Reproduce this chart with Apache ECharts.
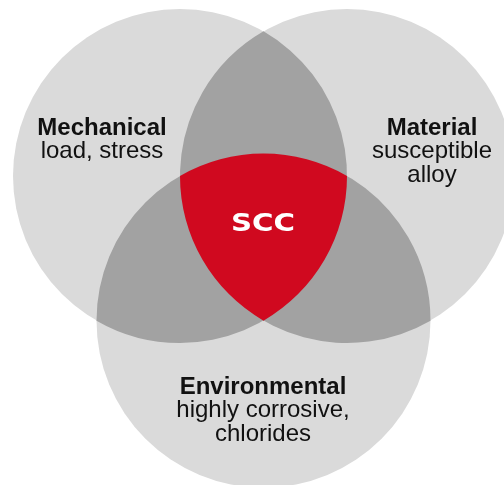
<!DOCTYPE html>
<html>
<head>
<meta charset="utf-8">
<script src="https://cdn.jsdelivr.net/npm/echarts@6/dist/echarts.min.js"></script>
<style>
  html, body { margin: 0; padding: 0; background: #fff; }
  #chart { width: 504px; height: 485px; }
</style>
</head>
<body>
<div id="chart"></div>
<script>
// three factors of the venn diagram
const setNames = ['Mechanical', 'Material', 'Environmental'];
const setDetails = [['load, stress'], ['susceptible', 'alloy'], ['highly corrosive,', 'chlorides']];
const centerX = [180, 347, 263.5];
const centerY = [176, 176, 320.6];
const radius = [167, 167, 167];
const coreName = 'SCC';

// label anchors (first line centre) for each set
const labelAnchor = [[102, 128], [432, 128], [263, 387]];
const lineGap = 23.5;

const FONT = '"Liberation Sans", Arial, Helvetica, sans-serif';

const chart = echarts.init(document.getElementById('chart'));

function px(api, i) {
  const p = api.coord([centerX[i], centerY[i]]);
  const r = api.size([radius[i], 0])[0];
  return { x: p[0], y: p[1], r: r };
}

// both crossing points of two circles (equal radius)
function crossing(a, b) {
  const dx = b.x - a.x, dy = b.y - a.y;
  const d = Math.sqrt(dx * dx + dy * dy);
  const h = Math.sqrt(Math.max(a.r * a.r - (d / 2) * (d / 2), 0));
  const mx = a.x + dx / 2, my = a.y + dy / 2;
  return [
    [mx - h * dy / d, my + h * dx / d],
    [mx + h * dy / d, my - h * dx / d]
  ];
}

const pairs = [[0, 1], [1, 2], [0, 2]];

const option = {
  animation: false,
  grid: { left: 0, right: 0, top: 0, bottom: 0 },
  xAxis: { type: 'value', min: 0, max: 504, show: false },
  yAxis: { type: 'value', min: 0, max: 485, inverse: true, show: false },
  series: [
    {
      // full circles
      type: 'custom',
      coordinateSystem: 'cartesian2d',
      data: setNames.map((n, i) => [centerX[i], centerY[i], i]),
      renderItem: function (params, api) {
        const c = px(api, api.value(2));
        return {
          type: 'circle',
          shape: { cx: c.x, cy: c.y, r: c.r },
          style: { fill: '#dadada' }
        };
      }
    },
    {
      // pairwise overlaps
      type: 'custom',
      coordinateSystem: 'cartesian2d',
      data: pairs.map(p => [p[0], p[1]]),
      renderItem: function (params, api) {
        const a = px(api, api.value(0));
        const b = px(api, api.value(1));
        const pts = crossing(a, b);
        const P = pts[0], Q = pts[1];
        const r = a.r;
        const d = 'M' + P[0] + ' ' + P[1] +
          ' A' + r + ' ' + r + ' 0 0 1 ' + Q[0] + ' ' + Q[1] +
          ' A' + r + ' ' + r + ' 0 0 1 ' + P[0] + ' ' + P[1] + ' Z';
        return {
          type: 'path',
          shape: { pathData: d },
          style: { fill: '#a2a2a2' }
        };
      }
    },
    {
      // triple overlap
      type: 'custom',
      coordinateSystem: 'cartesian2d',
      data: [[0]],
      renderItem: function (params, api) {
        const cs = [0, 1, 2].map(i => px(api, i));
        const verts = pairs.map(p => {
          const k = 3 - p[0] - p[1];
          const pts = crossing(cs[p[0]], cs[p[1]]);
          const d0 = Math.hypot(pts[0][0] - cs[k].x, pts[0][1] - cs[k].y);
          const d1 = Math.hypot(pts[1][0] - cs[k].x, pts[1][1] - cs[k].y);
          return d0 < d1 ? pts[0] : pts[1];
        });
        const gx = (verts[0][0] + verts[1][0] + verts[2][0]) / 3;
        const gy = (verts[0][1] + verts[1][1] + verts[2][1]) / 3;
        verts.sort((u, v) => Math.atan2(u[1] - gy, u[0] - gx) - Math.atan2(v[1] - gy, v[0] - gx));
        const r = cs[0].r;
        let d = 'M' + verts[0][0] + ' ' + verts[0][1];
        for (let i = 1; i <= 3; i++) {
          const v = verts[i % 3];
          d += ' A' + r + ' ' + r + ' 0 0 1 ' + v[0] + ' ' + v[1];
        }
        d += ' Z';
        const mid = api.coord([263, 225]);
        return {
          type: 'group',
          children: [
            { type: 'path', shape: { pathData: d }, style: { fill: '#d0091f' } },
            {
              type: 'text', x: mid[0], y: mid[1], scaleX: 1.22,
              style: {
                text: coreName, fill: '#fff', font: 'bold 24px "DejaVu Sans", sans-serif',
                align: 'center', verticalAlign: 'middle'
              }
            }
          ]
        };
      }
    },
    {
      // set labels
      type: 'custom',
      coordinateSystem: 'cartesian2d',
      data: setNames.map((n, i) => [labelAnchor[i][0], labelAnchor[i][1], i]),
      renderItem: function (params, api) {
        const i = api.value(2);
        const p = api.coord([api.value(0), api.value(1)]);
        const children = [{
          type: 'text', x: p[0], y: p[1],
          style: {
            text: setNames[i], fill: '#111', font: 'bold 24px ' + FONT,
            align: 'center', verticalAlign: 'middle'
          }
        }];
        setDetails[i].forEach((t, j) => {
          children.push({
            type: 'text', x: p[0], y: p[1] + lineGap * (j + 1),
            style: {
              text: t, fill: '#111', font: '24px ' + FONT,
              align: 'center', verticalAlign: 'middle'
            }
          });
        });
        return { type: 'group', children: children };
      }
    }
  ]
};

chart.setOption(option);
</script>
</body>
</html>
